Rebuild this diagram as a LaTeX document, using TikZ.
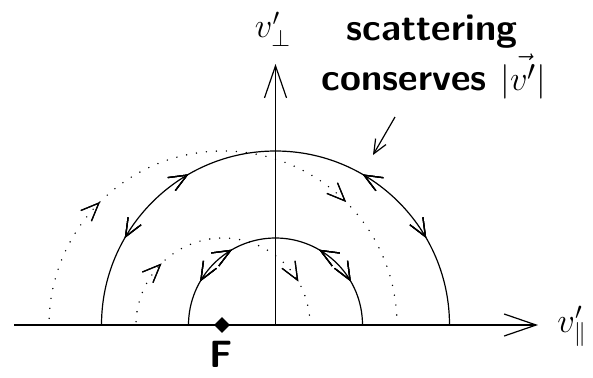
\documentclass[tikz,border=0pt]{standalone}
\usetikzlibrary{arrows.meta,decorations.markings,shapes.geometric}
\begin{document}
\begin{tikzpicture}[x=0.5pt,y=0.5pt,
  axisline/.style={line width=0.6pt,-{Straight Barb[length=16pt,width=11pt,line width=0.6pt]}},
  orbit/.style={line width=0.6pt},
  dotorbit/.style={line width=0.8pt,line cap=round,dash pattern=on 0pt off 5pt},
  fwd/.style={postaction={decorate},decoration={markings,mark=at position #1 with {\arrow{Straight Barb[length=9pt,width=7.5pt,line width=0.6pt]}}}},
  bwd/.style={postaction={decorate},decoration={markings,mark=at position #1 with {\arrowreversed{Straight Barb[length=9pt,width=7.5pt,line width=0.6pt]}}}},
  bigtxt/.style={font=\fontsize{19}{23}\selectfont\sffamily\bfseries,inner sep=0pt},
  mathtxt/.style={font=\fontsize{18}{22}\selectfont,inner sep=0pt}]
\useasboundingbox (0,0) rectangle (593,377);
% centres
\coordinate (O) at (275.5,52);
\coordinate (Fc) at (223,52);
\coordinate (xs) at (14,52);
\coordinate (xe) at (538,52);
\coordinate (ye) at (275.5,313);
% axes
\draw[axisline] (xs) -- (xe);
\draw[axisline] (O) -- (ye);
% solid half circles
\draw[orbit,fwd=0.333,bwd=0.1667,bwd=0.6667,fwd=0.8333]
  (O) ++(174,0) arc[start angle=0,end angle=180,radius=174];
\draw[orbit,fwd=0.333,bwd=0.1667,bwd=0.6667,fwd=0.8333]
  (O) ++(87,0) arc[start angle=0,end angle=180,radius=87];
% dotted half circles centred on F
\draw[dotorbit,bwd=0.25,bwd=0.75]
  (Fc) ++(174,0) arc[start angle=0,end angle=180,radius=174];
\draw[dotorbit,bwd=0.1667,bwd=0.75]
  (Fc) ++(87,0) arc[start angle=0,end angle=180,radius=87];
% F point
\node[diamond,fill,inner sep=0pt,minimum size=8pt] (F) at (222,52) {};
\node[bigtxt,anchor=base] (Flab) at (221,10) {F};
% labels
\node[mathtxt] (vperp) at (273,348) {$v'_\perp$};
\node[mathtxt,anchor=base west] (vpar) at (557,45) {$v'_\parallel$};
\node[bigtxt,anchor=base] (l1) at (432,337) {scattering};
\node[bigtxt,anchor=base] (l2) at (434,287) {conserves $\bigl|\vec{v'}\bigr|$};
\coordinate (as) at (395,260);
\coordinate (ae) at (373,222);
\draw[line width=0.6pt,-{Straight Barb[length=7pt,width=6pt,line width=0.6pt]}] (as) -- (ae);
\end{tikzpicture}
\end{document}
